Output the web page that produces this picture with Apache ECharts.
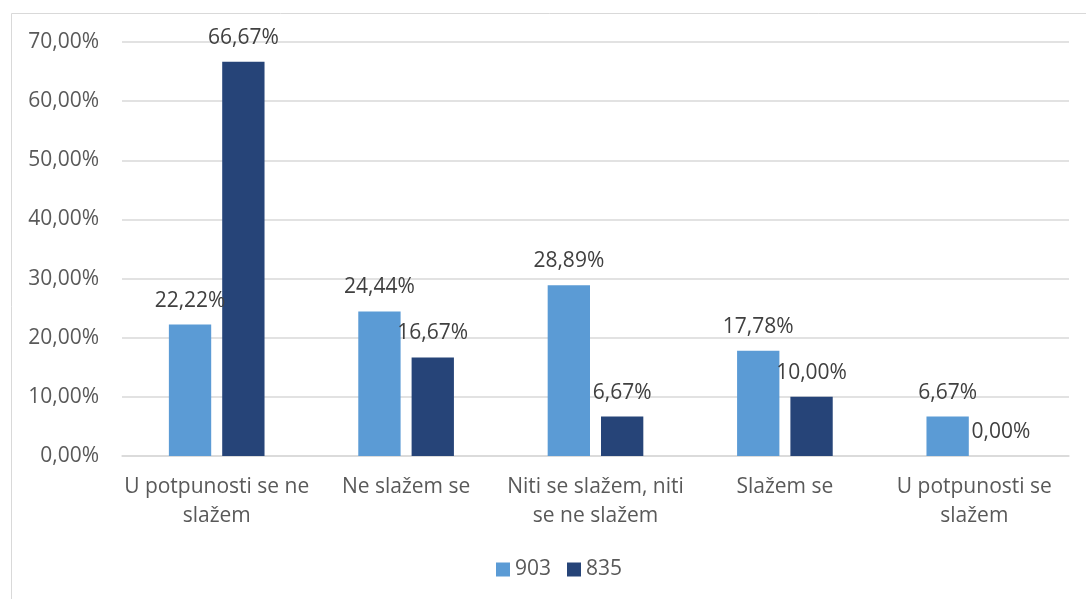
<!DOCTYPE html>
<html>
<head>
<meta charset="utf-8">
<script src="https://cdn.jsdelivr.net/npm/echarts@6/dist/echarts.min.js"></script>
<style>
html,body{margin:0;padding:0;background:#fff;}
#chart{width:1086px;height:599px;}
</style>
</head>
<body>
<div id="chart"></div>
<script>
const categories = [
  'U potpunosti se ne\nslažem',
  'Ne slažem se',
  'Niti se slažem, niti\nse ne slažem',
  'Slažem se',
  'U potpunosti se\nslažem'
];
const seriesNames = ['903', '835'];
const values903 = [22.22, 24.44, 28.89, 17.78, 6.67];
const values835 = [66.67, 16.67, 6.67, 10.00, 0.00];
const yTicks = [0, 10, 20, 30, 40, 50, 60, 70];

const FONT = '"Open Sans", "Noto Sans", sans-serif';
const fmtPct = v => Number(v).toFixed(2).replace('.', ',') + '%';

const chart = echarts.init(document.getElementById('chart'), null, {renderer: 'canvas'});

const labelStyle = {
  show: true,
  position: 'top',
  distance: 12,
  fontFamily: FONT,
  fontSize: 21,
  lineHeight: 24,
  color: '#404040',
  formatter: p => fmtPct(p.value)
};

chart.setOption({
  animation: false,
  backgroundColor: '#fff',
  color: ['#5B9BD5', '#264478'],
  graphic: [{
    type: 'rect',
    shape: {x: 11.5, y: 13.5, width: 1100, height: 620},
    style: {fill: 'none', stroke: '#d9d9d9', lineWidth: 1},
    silent: true,
    z: -10
  }],
  grid: {left: 122, right: 17, top: 42, bottom: 143, containLabel: false},
  legend: {
    data: seriesNames,
    top: 559,
    left: 496,
    padding: 0,
    itemWidth: 14,
    itemHeight: 14,
    itemGap: 16,
    icon: 'rect',
    textStyle: {fontFamily: FONT, fontSize: 21, color: '#595959', padding: [0, 0, 0, 0]}
  },
  xAxis: {
    type: 'category',
    data: categories,
    axisLine: {show: true, lineStyle: {color: '#d9d9d9', width: 1.5}},
    axisTick: {show: false},
    axisLabel: {
      interval: 0,
      margin: 17,
      fontFamily: FONT,
      fontSize: 21,
      lineHeight: 29,
      color: '#595959',
      align: 'center'
    }
  },
  yAxis: {
    type: 'value',
    min: yTicks[0],
    max: yTicks[yTicks.length - 1],
    interval: yTicks[1] - yTicks[0],
    axisLine: {show: false},
    axisTick: {show: false},
    splitLine: {lineStyle: {color: '#d9d9d9', width: 1.5}},
    axisLabel: {
      margin: 23,
      fontFamily: FONT,
      fontSize: 21,
      color: '#595959',
      formatter: v => fmtPct(v)
    }
  },
  series: [
    {
      name: seriesNames[0],
      type: 'bar',
      data: values903,
      barGap: '26%',
      barCategoryGap: '49.5%',
      label: labelStyle
    },
    {
      name: seriesNames[1],
      type: 'bar',
      data: values835,
      barGap: '26%',
      barCategoryGap: '49.5%',
      label: labelStyle
    }
  ]
});
</script>
</body>
</html>
